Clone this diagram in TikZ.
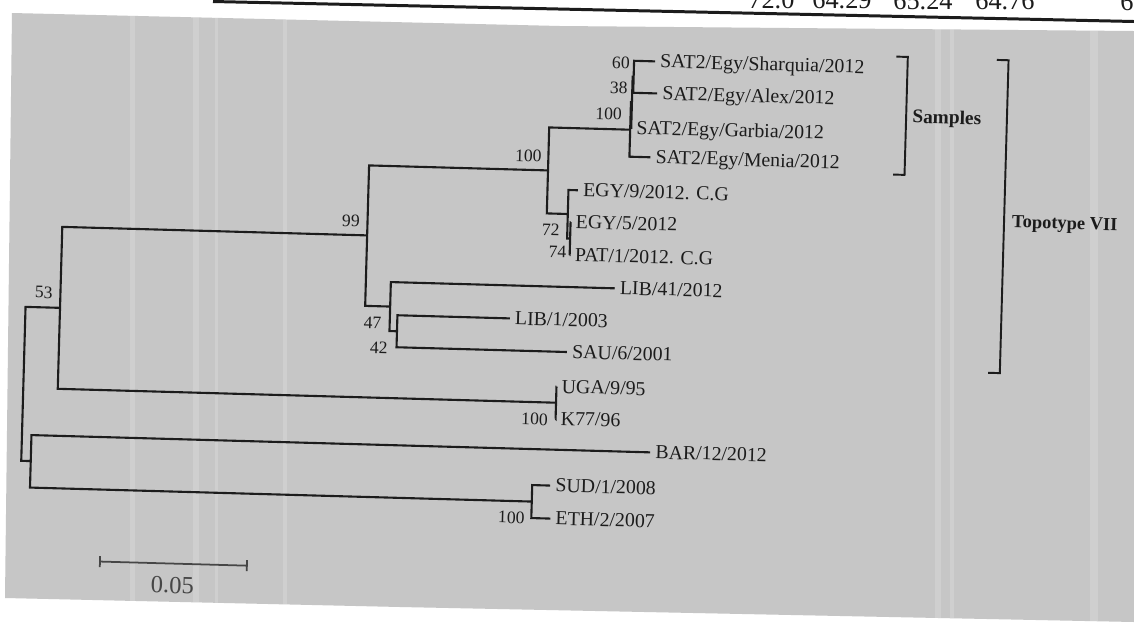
\documentclass[tikz,border=0pt]{standalone}
\usepackage{fontspec}
\setmainfont{Liberation Serif}
\definecolor{scan}{RGB}{198,198,198}
\definecolor{ink}{RGB}{28,28,28}
\definecolor{barink}{RGB}{70,70,70}
\begin{document}
\begin{tikzpicture}[x=0.02cm, y=-0.02cm,
  branch/.style={draw=ink, line width=1.2pt},
  leaf/.style={anchor=west, text=ink, inner xsep=2.8pt, inner ysep=0pt, text height=0.75em, text depth=0.05em, font=\fontsize{11.3}{12}\selectfont},
  boot/.style={anchor=east, text=ink, inner sep=0pt, font=\fontsize{10}{11}\selectfont},
  clade/.style={anchor=west, text=ink, inner sep=0pt, text height=0.7em, text depth=0pt, font=\fontsize{11}{12}\selectfont\bfseries}]
  \useasboundingbox (0,0) rectangle (1134,630);
  \fill[white] (0,0) rectangle (1134,630);
  % scanned page with streaks
  \begin{scope}
    \clip (12,13) -- (560,26) -- (1134,31) -- (1134,622) -- (400,607) -- (5,598) -- cycle;
    \fill[scan] (0,0) rectangle (1134,630);
    \foreach \sx/\sw in {130/5, 193/6, 215/3, 283/4, 935/6, 950/4, 1090/8}
      \fill[white, opacity=0.16] (\sx,0) rectangle ++(\sw,630);
  \end{scope}
  % bottom of the table above
  \draw[ink, line width=1.7pt] (213,1.5) -- (1134,21.5);
  \foreach \tx/\ty/\tv in {748/8/72.0, 812/8.5/64.29, 893/9/65.24, 975/9.5/64.76, 1120/10/6}
    \node[anchor=base west, inner sep=0pt, text=ink, font=\fontsize{15}{16}\selectfont] at (\tx,\ty) {\tv};
  \begin{scope}[rotate around={-1.6:(567,315)}, transform shape]
    % inner nodes
    \coordinate (root) at (25.5,399);
    \coordinate (nbs) at (35,476);
    \coordinate (n53) at (60,322);
    \coordinate (n99) at (365,241);
    \coordinate (n100b) at (544,171);
    \coordinate (n100s) at (625,128);
    \coordinate (n38) at (626,100.5);
    \coordinate (n60) at (627,75);
    \coordinate (negy) at (565,214);
    \coordinate (negyi) at (568,238.5);
    \coordinate (n47) at (390,311.5);
    \coordinate (n42) at (397.5,336);
    \coordinate (nuga) at (558.5,403);
    \coordinate (nsud) at (537,502.5);
    % leaves
    \node[leaf] (sharq) at (648,59) {SAT2/Egy/Sharquia/2012};
    \node[leaf] (alex) at (651,91) {SAT2/Egy/Alex/2012};
    \node[leaf] (garb) at (626,126) {SAT2/Egy/Garbia/2012};
    \node[leaf] (menia) at (646,155) {SAT2/Egy/Menia/2012};
    \node[leaf] (egy9) at (574.5,190) {EGY/9/2012. C.G};
    \node[leaf] (egy5) at (568,222) {EGY/5/2012};
    \node[leaf] (pat1) at (568,255) {PAT/1/2012. C.G};
    \node[leaf] (lib41) at (614,287) {LIB/41/2012};
    \node[leaf] (lib1) at (510,320) {LIB/1/2003};
    \node[leaf] (sau) at (568,352) {SAU/6/2001};
    \node[leaf] (uga) at (558.5,387) {UGA/9/95};
    \node[leaf] (k77) at (558.5,419) {K77/96};
    \node[leaf] (bar) at (654,450) {BAR/12/2012};
    \node[leaf] (sud) at (555,486) {SUD/1/2008};
    \node[leaf] (eth) at (556,519) {ETH/2/2007};
    % branches
    \draw[branch] (sharq) -| (n60) |- (alex);
    \draw[branch] (n60) -| (n38) |- (garb);
    \draw[branch] (n38) -| (n100s) |- (menia);
    \draw[branch] (n100s) -| (n100b) |- (negy);
    \draw[branch] (egy9) -| (negy) |- (negyi);
    \draw[branch] (egy5) -| (negyi) |- (pat1);
    \draw[branch] (n100b) -| (n99) |- (n47);
    \draw[branch] (lib41) -| (n47) |- (n42);
    \draw[branch] (lib1) -| (n42) |- (sau);
    \draw[branch] (n99) -| (n53) |- (nuga);
    \draw[branch] (uga) -| (nuga) |- (k77);
    \draw[branch] (n53) -| (root) |- (nbs);
    \draw[branch] (bar) -| (nbs) |- (nsud);
    \draw[branch] (sud) -| (nsud) |- (eth);
    % bootstrap values
    \node[boot] (b60) at (623,61.5) {60};
    \node[boot] (b38) at (621.5,86.5) {38};
    \node[boot] (b100s) at (616.5,113) {100};
    \node[boot] (b100b) at (537.5,157) {100};
    \node[boot] (b99) at (357.5,227) {99};
    \node[boot] (b53) at (52.5,307) {53};
    \node[boot] (b47) at (382,328.5) {47};
    \node[boot] (b42) at (389,353) {42};
    \node[boot] (b72) at (557.5,230.5) {72};
    \node[boot] (b74) at (565,252) {74};
    \node[boot] (b100u) at (551,420) {100};
    \node[boot] (b100e) at (530.5,519) {100};
    % clade brackets
    \draw[branch, line width=1.1pt] (889,47.5) -- (900.5,47.5) -- (900.5,165.5) -- (889,165.5);
    \node[clade] (samples) at (906.5,107) {Samples};
    \draw[branch, line width=1.1pt] (989.5,48) -- (1001.3,48) -- (1001.3,361) -- (989.5,361);
    \node[clade, font=\fontsize{10.5}{12}\selectfont\bfseries] (topo) at (1009,209) {Topotype VII};
    % scale bar
    \draw[barink, line width=1pt] (107,569) -- (107,580) (107,574.5) -- (254,574.5) (254,569) -- (254,580);
    \node[text=barink, inner sep=0pt, font=\fontsize{14}{15}\selectfont] (scale) at (180,596) {0.05};
  \end{scope}
\end{tikzpicture}
\end{document}
